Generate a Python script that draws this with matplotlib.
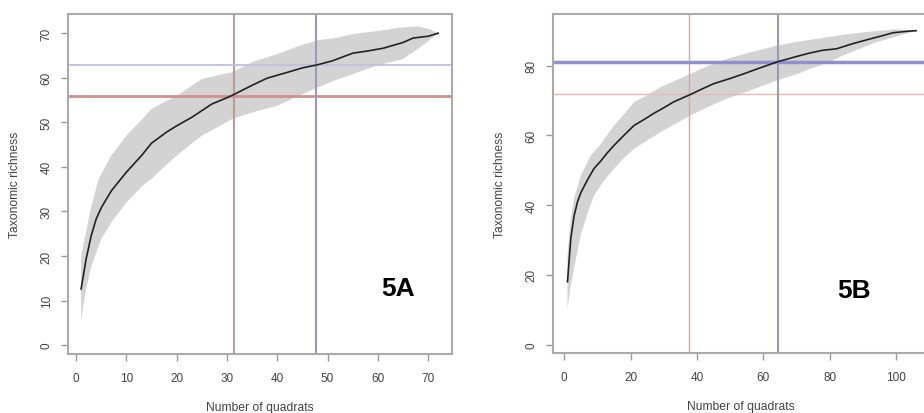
import matplotlib
matplotlib.use("Agg")
import matplotlib.pyplot as plt

# panel A readings
a_x = [1, 2, 3, 4, 5, 7, 10, 13, 15, 18, 20, 23, 25, 27, 30, 31.5, 35, 38, 42, 45, 48, 51, 55, 58, 61, 65, 67, 70, 72]
a_mean = [12.6, 19.3, 24.5, 28.3, 30.8, 34.6, 38.8, 42.5, 45.3, 47.8, 49.2, 51.1, 52.6, 54.1, 55.5, 56.3, 58.3, 59.9,
          61.2, 62.2, 62.9, 63.8, 65.5, 66.0, 66.6, 67.9, 68.9, 69.3, 70.0]
a_up_x = [1, 2, 3, 4.5, 7, 10, 13, 15, 18, 20, 25, 28, 31, 35, 40, 44, 48, 52, 55, 60, 65, 68, 70, 72]
a_up = [20, 25.4, 31, 37.3, 42.5, 47, 50.5, 53, 54.8, 55.9, 59.7, 60.5, 61.2, 63.5, 65.3, 67, 68.4, 69, 69.8, 70.5,
        71.3, 71.5, 71, 70]
a_lo_x = [1, 2, 3, 5, 7, 10, 13, 15, 18, 20, 25, 28, 31, 35, 40, 44, 48, 52, 55, 60, 65, 68, 70, 72]
a_lo = [5.5, 12.6, 17.5, 23.8, 27.5, 32, 35.5, 37.3, 40.5, 42.5, 47, 48.8, 50.7, 52.2, 53.7, 55.8, 57.8, 59.6, 60.8,
        62.8, 64.2, 66.5, 68.2, 70]
a_red = (31.4, 55.9)
a_blue = (47.7, 62.9)

# panel B readings
b_x = [1, 2, 3, 4, 5, 7, 9, 11, 13, 15, 18, 21, 24, 27, 30, 33, 38, 42, 45, 50, 54, 58, 64.3, 70, 74, 78, 82, 87,
       92, 96, 99, 103, 106]
b_mean = [18, 30.5, 37, 40.9, 43.5, 47.2, 50.5, 52.6, 55, 57.1, 60, 62.8, 64.5, 66.3, 67.9, 69.6, 71.7, 73.5, 74.8,
          76.3, 77.6, 79, 81.1, 82.6, 83.6, 84.4, 84.8, 86.3, 87.6, 88.6, 89.4, 89.8, 90.0]
b_up_x = [1, 2, 3, 5, 8, 11, 15, 18, 21, 25, 29, 33, 38, 43, 49, 55, 64, 70, 79, 87, 94, 100, 106]
b_up = [25.6, 36, 42, 48.5, 54.2, 57.5, 62.8, 66, 69.5, 71.5, 73.8, 75.5, 77.6, 79.8, 81.9, 83.5, 85.7, 86.8, 88.1,
        89.2, 89.9, 90.4, 90]
b_lo_x = [1, 2, 3, 5, 7, 9, 12, 15, 18, 21, 25, 29, 33, 38, 43, 49, 55, 64, 70, 74, 80, 84, 90, 94, 100, 106]
b_lo = [10.3, 17, 22, 31.5, 37.5, 42.8, 47, 50.4, 53.5, 56.1, 58.5, 60.9, 63, 65.7, 68, 70.5, 72.5, 75.7, 77.5, 79,
        81, 82.9, 85.2, 86.7, 88.3, 90]
b_red = (37.6, 71.9)
b_blue = (64.3, 81.1)

a_xticks = [0, 10, 20, 30, 40, 50, 60, 70]
a_yticks = [0, 10, 20, 30, 40, 50, 60, 70]
b_xticks = [0, 20, 40, 60, 80, 100]
b_yticks = [0, 20, 40, 60, 80]

plt.rcParams['font.family'] = ['Liberation Sans', 'DejaVu Sans']

fig = plt.figure(figsize=(9.24, 4.14), dpi=100)
ax_a = fig.add_axes([0.0736, 0.1425, 0.4156, 0.8213])
ax_b = fig.add_axes([0.598, 0.1449, 0.4085, 0.819])


def draw_panel(ax, x, mean, up_x, up, lo_x, lo, red, blue, red_style, blue_style):
    ax.fill(up_x + lo_x[::-1], up + lo[::-1], color='#d3d3d3', lw=0, zorder=1)
    ax.axvline(red[0], color=red_style[0], lw=red_style[1], zorder=2)
    ax.axhline(red[1], color=red_style[2], lw=red_style[3], zorder=2)
    ax.axvline(blue[0], color=blue_style[0], lw=blue_style[1], zorder=2)
    ax.axhline(blue[1], color=blue_style[2], lw=blue_style[3], zorder=2)
    ax.plot(x, mean, color='#222222', lw=1.2, zorder=3)
    for s in ax.spines.values():
        s.set_color('#aaaaaa')
        s.set_linewidth(1.5)
    ax.tick_params(axis='both', colors='#999999', labelcolor='#444444', length=5, width=1, labelsize=8.5)
    ax.tick_params(axis='x', pad=8)
    ax.tick_params(axis='y', pad=6)
    for t in ax.get_yticklabels():
        t.set_rotation(90)
        t.set_va('center')
    ax.set_xlabel('Number of quadrats', fontsize=8.7, color='#444444', labelpad=12)
    ax.set_ylabel('Taxonomic richness', fontsize=8.7, color='#444444', labelpad=14)


ax_a.set_xticks(a_xticks)
ax_a.set_yticks(a_yticks)
ax_a.set_xlim(-1.6, 74.75)
ax_a.set_ylim(-2.0, 74.3)
draw_panel(ax_a, a_x, a_mean, a_up_x, a_up, a_lo_x, a_lo, a_red, a_blue,
           ('#bb9c9c', 1.5, '#d09090', 2.0), ('#9a9ab4', 1.5, '#c0c0e2', 1.3))
ax_a.text(0.86, 0.195, '5A', transform=ax_a.transAxes, fontsize=19, fontweight='bold',
          ha='center', va='center', color='black')

ax_b.set_xticks(b_xticks)
ax_b.set_yticks(b_yticks)
ax_b.set_xlim(-3.5, 110.2)
ax_b.set_ylim(-2.4, 94.8)
draw_panel(ax_b, b_x, b_mean, b_up_x, b_up, b_lo_x, b_lo, b_red, b_blue,
           ('#c8aaaa', 1.0, '#e8b8b8', 1.0), ('#9c9ca8', 1.5, '#9090d0', 2.5))
ax_b.text(0.798, 0.185, '5B', transform=ax_b.transAxes, fontsize=19, fontweight='bold',
          ha='center', va='center', color='black')

fig.savefig('out.png', dpi=100)
